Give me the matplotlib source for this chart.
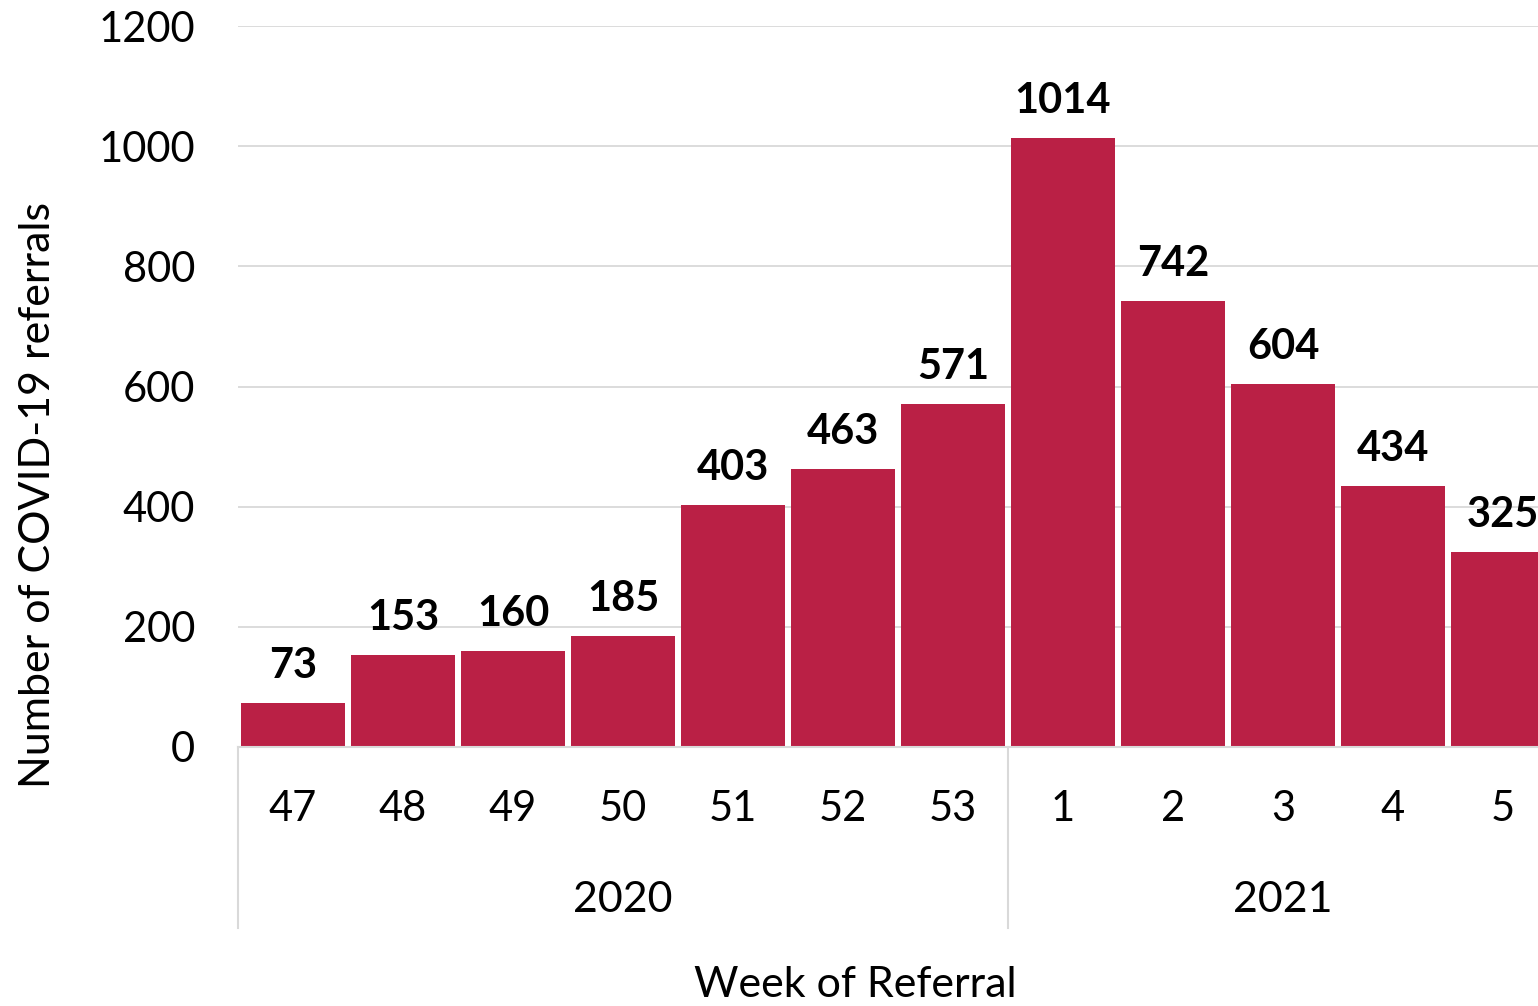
import numpy as np
import matplotlib.pyplot as plt

weeks = ["47", "48", "49", "50", "51", "52", "53", "1", "2", "3", "4", "5"]
referrals = [73, 153, 160, 185, 403, 463, 571, 1014, 742, 604, 434, 325]
years = ["2020", "2021"]
year_counts = [7, 5]

bar_color = "#BA2045"
grid_color = "#D9D9D9"

plt.rcParams['font.family'] = ['Lato', 'DejaVu Sans']

W, H = 1538, 1006
fig = plt.figure(figsize=(W / 100, H / 100), dpi=100)
# axes in pixel terms: left 238, right 1558 (cropped), bottom 747, top 26
ax = fig.add_axes([238 / W, 1 - 747 / H, 1320 / W, (747 - 26) / H])

x = np.arange(len(weeks))
bars = ax.bar(x, referrals, width=0.945, color=bar_color, zorder=3)

for xi, v in zip(x, referrals):
    ax.annotate(str(v), (xi, v), xytext=(0, 13), textcoords="offset points",
                ha="center", va="bottom", fontsize=30, fontweight="bold")

ax.set_xlim(-0.5, len(weeks) - 0.5)
ax.set_ylim(0, 1200)
ax.set_yticks(np.arange(0, 1201, 200))
ax.tick_params(axis="y", length=0, pad=31, labelsize=30)
ax.set_xticks(x)
ax.set_xticklabels(weeks)
ax.tick_params(axis="x", length=0, pad=31, labelsize=30)
ax.grid(axis="y", color=grid_color, linewidth=1.3, zorder=0)

for s in ["top", "right", "left"]:
    ax.spines[s].set_visible(False)
ax.spines["bottom"].set_color(grid_color)
ax.spines["bottom"].set_linewidth(1.5)
ax.spines["bottom"].set_zorder(4)

# year groups
trans = ax.get_xaxis_transform()
edge = -0.5
sep_bottom = -(928 - 747) / (747 - 26)
for yr, n in zip(years, year_counts):
    ax.plot([edge, edge], [0, sep_bottom], transform=trans, color=grid_color,
            linewidth=1.5, clip_on=False)
    ax.text(edge + n / 2, -(900 - 747) / (747 - 26), yr, transform=trans,
            ha="center", va="center", fontsize=31)
    edge += n

fig.text(855 / W, 1 - 985 / H, "Week of Referral", ha="center", va="center", fontsize=31)
fig.text(38 / W, 1 - 495 / H, "Number of COVID-19 referrals", ha="center", va="center",
         rotation=90, fontsize=31)

plt.savefig("out.png", dpi=100)
